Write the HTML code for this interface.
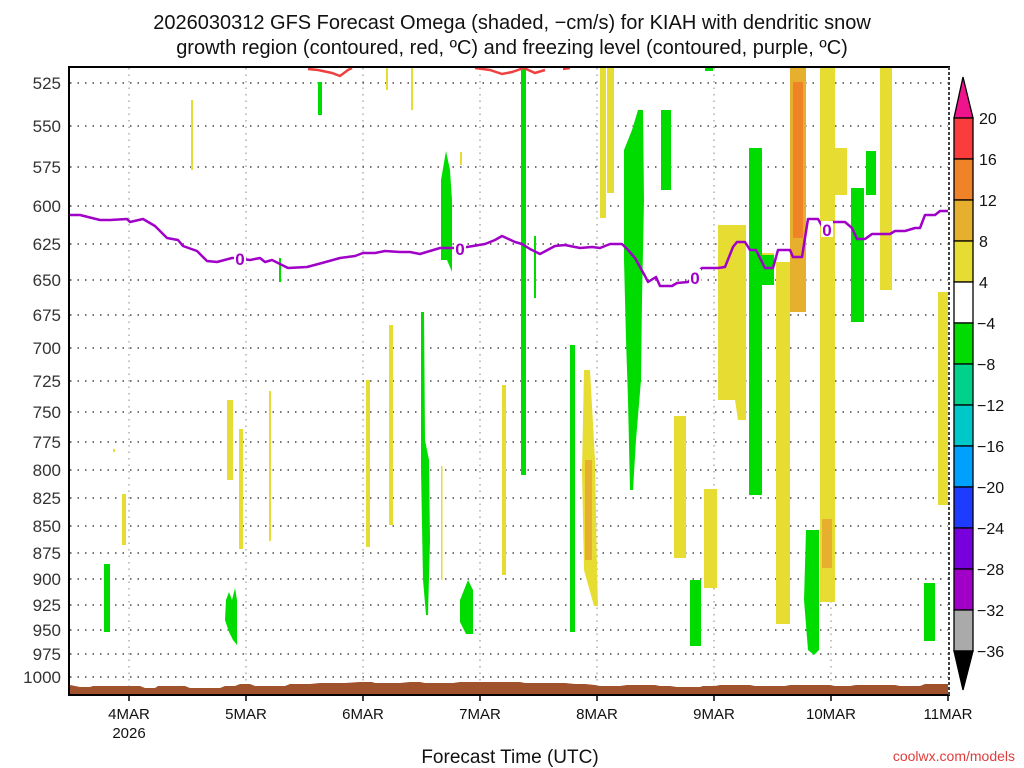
<!DOCTYPE html>
<html><head><style>
body{margin:0;background:#fff;}
svg{display:block;font-family:"Liberation Sans",sans-serif;}
</style></head><body>
<svg width="1024" height="768" xmlns="http://www.w3.org/2000/svg">
<rect width="1024" height="768" fill="#fff"/>
<text x="512" y="29" font-size="20" text-anchor="middle" fill="#111">2026030312 GFS Forecast Omega (shaded, −cm/s) for KIAH with dendritic snow</text>
<text x="512" y="54" font-size="20" text-anchor="middle" fill="#111">growth region (contoured, red, ºC) and freezing level (contoured, purple, ºC)</text>

<g stroke="#999" stroke-width="1.2" stroke-dasharray="1.5,5">
<line x1="129" y1="68" x2="129" y2="695"/><line x1="246" y1="68" x2="246" y2="695"/><line x1="363" y1="68" x2="363" y2="695"/><line x1="480" y1="68" x2="480" y2="695"/><line x1="597" y1="68" x2="597" y2="695"/><line x1="714" y1="68" x2="714" y2="695"/><line x1="831" y1="68" x2="831" y2="695"/>
</g>
<g stroke="#222" stroke-width="1.3" stroke-dasharray="1.5,6">
<line x1="70" x2="948" y1="83" y2="83"/><line x1="70" x2="948" y1="126" y2="126"/><line x1="70" x2="948" y1="167" y2="167"/><line x1="70" x2="948" y1="206" y2="206"/><line x1="70" x2="948" y1="244" y2="244"/><line x1="70" x2="948" y1="280" y2="280"/><line x1="70" x2="948" y1="315" y2="315"/><line x1="70" x2="948" y1="348" y2="348"/><line x1="70" x2="948" y1="381" y2="381"/><line x1="70" x2="948" y1="412" y2="412"/><line x1="70" x2="948" y1="442" y2="442"/><line x1="70" x2="948" y1="470" y2="470"/><line x1="70" x2="948" y1="498" y2="498"/><line x1="70" x2="948" y1="526" y2="526"/><line x1="70" x2="948" y1="553" y2="553"/><line x1="70" x2="948" y1="579" y2="579"/><line x1="70" x2="948" y1="605" y2="605"/><line x1="70" x2="948" y1="630" y2="630"/><line x1="70" x2="948" y1="654" y2="654"/><line x1="70" x2="948" y1="677" y2="677"/>
</g>

<g fill="#e6dc32">
<rect x="191" y="100" width="2" height="70"/>
<rect x="386" y="68" width="2" height="22"/><rect x="411" y="68" width="2" height="42"/>
<rect x="122" y="494" width="4" height="51"/><rect x="113" y="449" width="2" height="3"/>
<rect x="227" y="400" width="6" height="80"/><rect x="239" y="429" width="4" height="120"/>
<rect x="269" y="391" width="2" height="150"/>
<rect x="366" y="380" width="4" height="167"/><rect x="389" y="325" width="4" height="200"/>
<rect x="441" y="466" width="1.5" height="114"/><rect x="460" y="152" width="2" height="13"/>
<rect x="502" y="385" width="4" height="190"/>
<polygon points="584,370 590,370 595,460 597,570 598,606 594,606 584,570 582,470"/>
<rect x="600" y="68" width="6" height="150"/><rect x="607" y="68" width="7" height="125"/>
<rect x="674" y="416" width="12" height="142"/>
<rect x="704" y="489" width="13" height="99"/>
<polygon points="718,225 746,225 746,420 738,420 735,400 718,400"/>
<rect x="760" y="253" width="14" height="32"/>
<rect x="776" y="262" width="14" height="362"/>
<rect x="790" y="68" width="16" height="244"/>
<rect x="820" y="68" width="15" height="534"/>
<rect x="833" y="148" width="14" height="47"/>
<rect x="880" y="68" width="12" height="222"/>
<rect x="938" y="292" width="11" height="213"/>
</g>
<g fill="#e6af2d">
<rect x="790" y="68" width="16" height="244"/>
<rect x="585" y="460" width="7" height="100"/>
<rect x="822" y="519" width="10" height="49"/>
</g>
<rect x="793" y="82" width="10" height="156" fill="#f08228"/>

<g fill="#00dc00">
<rect x="318" y="82" width="4" height="33"/>
<rect x="104" y="564" width="6" height="68"/>
<polygon points="226,600 229,592 232,600 235,588 237,600 237,645 233,640 229,632 225,620"/>
<rect x="279" y="258" width="2" height="24"/>
<polygon points="421,312 424,312 425,440 429,460 430,540 428,615 426,615 423,580 421,470"/>
<polygon points="441,180 446,151 450,170 452,200 452,272 447,260 441,260"/>
<polygon points="460,600 468,580 473,590 473,634 466,634 460,622"/>
<rect x="521" y="68" width="5" height="407"/>
<rect x="534" y="236" width="2" height="62"/>
<rect x="570" y="345" width="5" height="287"/>
<polygon points="624,150 632,130 638,110 643,110 644,200 642,300 641,380 636,440 633,490 630,490 628,400 626,340 624,260"/>
<rect x="661" y="110" width="10" height="80"/>
<rect x="705" y="68" width="8" height="3"/>
<rect x="690" y="580" width="11" height="66"/>
<rect x="749" y="148" width="13" height="347"/>
<rect x="760" y="255" width="14" height="30"/>
<polygon points="806,530 819,530 819,650 814,655 808,650 804,600"/>
<rect x="851" y="188" width="13" height="134"/>
<rect x="866" y="151" width="10" height="44"/>
<rect x="924" y="583" width="11" height="58"/>
</g>

<g fill="none" stroke="#f04040" stroke-width="2.5">
<polyline points="308,69 318,70 332,73 340,76 348,70 352,68"/>
<polyline points="475,68 490,70 502,74 512,72 518,70 524,68 535,73 545,70"/>
<polyline points="563,69 570,68"/>
</g>

<polygon fill="#a0522d" points="70,685 80,687 90,687 93,686 140,686 145,688 155,688 158,686 185,686 190,688 220,688 225,686 235,686 240,684 250,684 255,686 285,686 290,684 310,684 320,683 345,683 360,682 372,682 375,683 400,683 410,682 420,682 425,683 453,683 460,682 520,682 525,683 565,683 575,684 585,684 595,685 600,686 620,686 627,685 655,685 660,686 670,686 677,687 700,687 703,686 715,686 720,685 750,685 755,686 785,686 790,685 830,685 835,686 850,686 856,685 895,685 900,686 920,686 925,684 949,684 949,695 70,695"/>

<polyline fill="none" stroke="#a000c8" stroke-width="2.5" stroke-linejoin="round" points="69,215 80,215 100,220 110,220 127,219 130,222 143,219 155,226 167,238 178,240 183,246 197,251 207,261 217,262 232,258 236,258 250,260 260,258 265,262 272,260 282,265 288,268 307,267 322,263 340,258 355,256 363,253 375,253 385,251 400,252 410,252 420,254 440,248 452,248 467,247 485,244 495,240 502,236 515,242 522,244 530,249 540,254 555,246 565,245 580,248 592,247 600,248 610,244 622,244 628,250 635,258 645,276 648,282 656,277 660,286 672,286 677,283 688,282 690,280 702,268 718,268 725,267 733,247 737,242 745,242 750,250 756,250 765,268 773,268 778,250 790,250 793,257 802,257 808,219 818,219 822,226 832,222 845,222 852,228 857,239 865,239 872,234 890,234 895,231 905,231 915,228 920,228 925,215 935,215 940,211 950,211"/>
<g font-size="17" font-weight="bold" fill="#a000c8" text-anchor="middle">
<rect x="234" y="250" width="12" height="16" fill="#fff"/><text x="240" y="265">0</text>
<rect x="454" y="240" width="12" height="16" fill="#fff"/><text x="460" y="255">0</text>
<rect x="689" y="269" width="12" height="16" fill="#fff"/><text x="695" y="284">0</text>
<rect x="821" y="221" width="12" height="16" fill="#fff"/><text x="827" y="236">0</text>
</g>

<rect x="69" y="67" width="880" height="628" fill="none" stroke="#000" stroke-width="2"/>
<line x1="949" y1="67" x2="949" y2="695" stroke="#fff" stroke-width="2"/>
<line x1="949" y1="67" x2="949" y2="695" stroke="#000" stroke-width="1.5" stroke-dasharray="3,2"/>
<g stroke="#000" stroke-width="1.5">
<line x1="129" y1="695" x2="129" y2="701"/><line x1="246" y1="695" x2="246" y2="701"/><line x1="363" y1="695" x2="363" y2="701"/><line x1="480" y1="695" x2="480" y2="701"/><line x1="597" y1="695" x2="597" y2="701"/><line x1="714" y1="695" x2="714" y2="701"/><line x1="831" y1="695" x2="831" y2="701"/><line x1="948" y1="695" x2="948" y2="701"/>
</g>

<g font-size="17" fill="#333" text-anchor="end">
<text x="61" y="89">525</text><text x="61" y="132">550</text><text x="61" y="173">575</text><text x="61" y="212">600</text><text x="61" y="250">625</text><text x="61" y="286">650</text><text x="61" y="321">675</text><text x="61" y="354">700</text><text x="61" y="387">725</text><text x="61" y="418">750</text><text x="61" y="448">775</text><text x="61" y="476">800</text><text x="61" y="504">825</text><text x="61" y="532">850</text><text x="61" y="559">875</text><text x="61" y="585">900</text><text x="61" y="611">925</text><text x="61" y="636">950</text><text x="61" y="660">975</text><text x="61" y="683">1000</text>
</g>
<g font-size="15" fill="#111" text-anchor="middle">
<text x="129" y="719">4MAR</text><text x="129" y="738">2026</text><text x="246" y="719">5MAR</text><text x="363" y="719">6MAR</text><text x="480" y="719">7MAR</text><text x="597" y="719">8MAR</text><text x="714" y="719">9MAR</text><text x="831" y="719">10MAR</text><text x="948" y="719">11MAR</text>
</g>
<text x="510" y="763" font-size="19" text-anchor="middle" fill="#111">Forecast Time (UTC)</text>
<text x="1015" y="761" font-size="14" text-anchor="end" fill="#e03c3c">coolwx.com/models</text>

<g stroke="#000" stroke-width="1.3">
<polygon points="963,77 954,118 973,118" fill="#f0148c"/>
<rect x="954" y="118" width="19" height="41" fill="#fa3c3c"/>
<rect x="954" y="159" width="19" height="41" fill="#f08228"/>
<rect x="954" y="200" width="19" height="41" fill="#e6af2d"/>
<rect x="954" y="241" width="19" height="41" fill="#e6dc32"/>
<rect x="954" y="282" width="19" height="41" fill="#fff"/>
<rect x="954" y="323" width="19" height="41" fill="#00dc00"/>
<rect x="954" y="364" width="19" height="41" fill="#00d28c"/>
<rect x="954" y="405" width="19" height="41" fill="#00c8c8"/>
<rect x="954" y="446" width="19" height="41" fill="#00a0ff"/>
<rect x="954" y="487" width="19" height="41" fill="#1e3cff"/>
<rect x="954" y="528" width="19" height="41" fill="#7800dc"/>
<rect x="954" y="569" width="19" height="41" fill="#a000c8"/>
<rect x="954" y="610" width="19" height="41" fill="#aaaaaa"/>
<polygon points="954,651 973,651 963,690" fill="#000"/>
</g>
<g font-size="16" fill="#111">
<text x="979" y="124">20</text><text x="979" y="165">16</text><text x="979" y="206">12</text><text x="979" y="247">8</text><text x="979" y="288">4</text><text x="977" y="329">−4</text><text x="977" y="370">−8</text><text x="977" y="411">−12</text><text x="977" y="452">−16</text><text x="977" y="493">−20</text><text x="977" y="534">−24</text><text x="977" y="575">−28</text><text x="977" y="616">−32</text><text x="977" y="657">−36</text>
</g>
</svg>
</body></html>
